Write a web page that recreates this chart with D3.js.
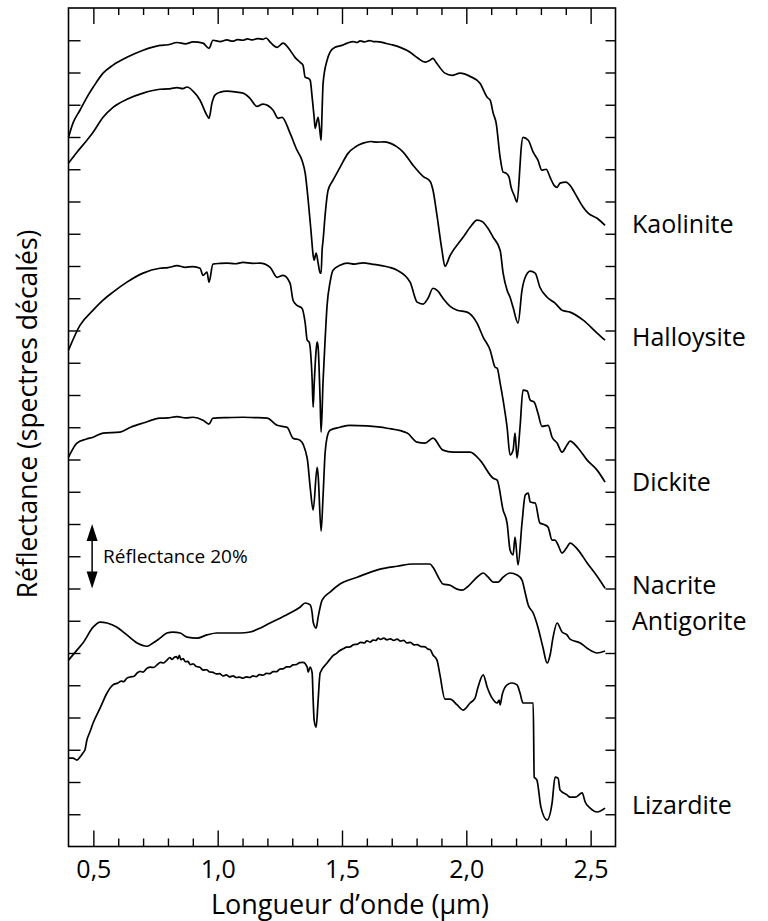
<!DOCTYPE html>
<html>
<head>
<meta charset="utf-8">
<script src="https://cdn.jsdelivr.net/npm/d3@7"></script>
<style>
  body { margin: 0; background: #fff; }
  svg { display: block; }
  text { font-family: "Open Sans", "Noto Sans", sans-serif; fill: #000; }
</style>
</head>
<body>
<svg id="chart" width="768" height="921"></svg>
<script>
// Reflectance spectra (wavelength in µm, reflectance in %, each curve already shifted upward)
const kaolinite = [
  [0.400,219.9],[0.418,224.3],[0.446,228.3],[0.474,232.3],[0.499,235.4],[0.539,239.8],[0.579,242.3],
  [0.635,244.7],[0.700,246.9],[0.768,248.4],[0.800,248.6],[0.837,249.3],[0.870,248.9],[0.901,249.5],
  [0.941,249.1],[0.965,247.5],[0.981,250.0],[1.010,249.6],[1.037,250.1],[1.060,249.7],[1.080,250.2],
  [1.100,250.0],[1.120,250.4],[1.140,250.1],[1.160,250.5],[1.182,250.3],[1.195,250.7],[1.211,249.4],
  [1.239,247.8],[1.263,249.1],[1.291,246.9],[1.311,244.7],[1.331,243.2],[1.343,242.3],[1.352,238.5],
  [1.364,238.2],[1.372,237.6],[1.380,232.3],[1.388,226.1],[1.392,222.7],[1.400,225.2],[1.404,226.1],
  [1.412,221.2],[1.416,219.0],[1.420,228.3],[1.424,236.7],[1.440,243.8],[1.452,246.3],[1.472,247.8],
  [1.500,248.4],[1.521,249.1],[1.545,249.6],[1.560,249.3],[1.573,249.8],[1.590,249.5],[1.610,249.9],
  [1.625,249.6],[1.650,249.5],[1.673,249.1],[1.700,248.6],[1.734,247.8],[1.774,246.3],[1.806,244.4],
  [1.834,243.2],[1.854,243.8],[1.866,244.4],[1.878,243.2],[1.914,239.8],[1.943,239.1],[1.975,239.8],
  [2.015,238.8],[2.055,236.7],[2.084,232.3],[2.096,231.4],[2.108,227.4],[2.120,224.3],[2.136,213.7],
  [2.148,209.1],[2.160,208.8],[2.172,207.5],[2.180,204.4],[2.192,202.0],[2.204,199.8],[2.216,211.2],
  [2.220,215.9],[2.228,219.9],[2.249,219.0],[2.269,215.3],[2.288,212.8],[2.304,209.7],[2.321,210.0],
  [2.337,207.5],[2.353,205.0],[2.365,204.4],[2.377,205.7],[2.401,206.0],[2.417,205.0],[2.446,201.3],
  [2.470,198.2],[2.490,196.4],[2.526,194.8],[2.558,192.6]
];

const halloysite = [
  [0.400,211.9],[0.434,215.3],[0.474,219.0],[0.499,221.5],[0.539,226.1],[0.579,229.2],[0.635,231.7],
  [0.700,233.6],[0.768,234.8],[0.800,234.9],[0.837,235.3],[0.860,235.0],[0.877,235.5],[0.901,234.2],
  [0.929,231.4],[0.957,226.7],[0.965,225.8],[0.977,230.5],[0.989,233.0],[1.010,233.9],[1.037,234.2],
  [1.070,234.0],[1.102,233.6],[1.130,232.0],[1.158,229.5],[1.182,230.2],[1.223,228.3],[1.243,225.8],
  [1.259,226.1],[1.291,221.2],[1.319,215.9],[1.339,212.8],[1.352,208.8],[1.364,200.4],[1.376,190.2],
  [1.384,183.3],[1.388,181.8],[1.396,184.0],[1.404,180.9],[1.412,177.8],[1.416,177.8],[1.420,184.9],
  [1.424,188.0],[1.432,195.7],[1.444,203.5],[1.464,206.6],[1.492,210.6],[1.525,215.0],[1.555,217.0],
  [1.585,218.1],[1.615,218.6],[1.641,218.4],[1.668,218.5],[1.693,218.1],[1.720,217.0],[1.746,215.3],
  [1.786,211.2],[1.826,207.8],[1.854,206.3],[1.866,203.5],[1.882,195.7],[1.902,184.9],[1.914,179.9],
  [1.935,183.3],[1.987,188.9],[2.020,192.5],[2.043,194.2],[2.065,193.7],[2.084,192.0],[2.108,188.9],
  [2.136,184.9],[2.148,177.8],[2.164,172.5],[2.176,170.3],[2.188,167.2],[2.208,162.3],[2.224,172.5],
  [2.237,176.5],[2.257,178.4],[2.277,177.8],[2.296,173.4],[2.325,170.3],[2.357,168.5],[2.385,166.3],
  [2.417,165.7],[2.470,163.2],[2.526,159.2],[2.558,157.0]
];

const dickite = [
  [0.400,153.9],[0.446,161.6],[0.499,166.3],[0.539,169.4],[0.579,171.9],[0.635,175.0],[0.700,177.8],
  [0.768,179.3],[0.800,179.5],[0.837,180.1],[0.870,179.6],[0.901,179.8],[0.929,179.3],[0.941,177.1],
  [0.957,178.1],[0.965,175.0],[0.981,180.6],[1.010,180.8],[1.037,180.9],[1.070,180.7],[1.102,181.1],
  [1.140,180.8],[1.170,180.9],[1.211,179.6],[1.239,176.5],[1.263,177.1],[1.291,174.7],[1.303,169.4],
  [1.319,167.8],[1.339,166.9],[1.352,162.3],[1.360,157.0],[1.368,156.4],[1.380,144.6],[1.384,136.2],
  [1.388,143.1],[1.396,153.9],[1.400,156.4],[1.404,154.8],[1.412,138.4],[1.416,128.5],[1.424,144.6],
  [1.432,157.0],[1.440,167.8],[1.452,175.0],[1.464,178.7],[1.492,180.2],[1.521,180.9],[1.550,180.6],
  [1.585,181.0],[1.620,180.6],[1.653,180.2],[1.690,179.6],[1.722,178.7],[1.774,175.0],[1.802,168.8],
  [1.826,168.2],[1.846,170.0],[1.866,173.1],[1.886,172.2],[1.906,170.0],[1.935,167.5],[1.963,166.3],
  [2.003,165.7],[2.043,162.3],[2.068,157.9],[2.096,153.9],[2.116,148.6],[2.124,148.3],[2.136,143.7],
  [2.148,138.4],[2.164,130.0],[2.176,121.4],[2.188,122.9],[2.196,128.2],[2.204,120.4],[2.216,130.0],
  [2.228,141.5],[2.245,141.2],[2.257,138.4],[2.273,137.8],[2.288,134.4],[2.304,130.3],[2.329,130.6],
  [2.345,126.9],[2.365,125.1],[2.385,122.3],[2.405,124.5],[2.417,125.7],[2.450,123.5],[2.486,119.8],
  [2.526,116.7],[2.558,113.0]
];

const nacrite = [
  [0.400,120.7],[0.434,125.1],[0.470,126.3],[0.499,126.9],[0.539,128.2],[0.607,128.5],[0.650,130.0],
  [0.700,131.3],[0.768,132.8],[0.800,132.9],[0.837,133.3],[0.870,132.9],[0.901,133.1],[0.941,132.2],
  [0.965,131.0],[0.981,132.8],[1.040,133.0],[1.102,133.1],[1.150,133.0],[1.199,132.8],[1.239,130.6],
  [1.279,130.0],[1.303,126.6],[1.331,126.0],[1.360,120.4],[1.372,111.4],[1.384,104.3],[1.400,117.6],
  [1.404,115.1],[1.416,97.8],[1.424,109.0],[1.432,122.0],[1.440,126.9],[1.452,129.1],[1.492,130.0],
  [1.532,130.6],[1.600,130.4],[1.681,129.7],[1.762,128.2],[1.802,125.4],[1.834,125.1],[1.866,126.6],
  [1.906,122.9],[1.947,122.3],[2.015,122.3],[2.055,119.8],[2.108,114.2],[2.124,113.6],[2.148,104.3],
  [2.164,100.3],[2.176,91.9],[2.188,90.4],[2.196,95.9],[2.208,87.3],[2.224,100.3],[2.237,109.0],
  [2.249,109.6],[2.257,106.8],[2.277,106.5],[2.296,100.3],[2.317,99.7],[2.329,99.0],[2.345,95.0],
  [2.357,95.0],[2.369,93.5],[2.385,91.0],[2.405,92.8],[2.417,94.1],[2.450,91.9],[2.486,87.9],
  [2.526,83.8],[2.558,80.1]
];

const antigorite = [
  [0.400,57.8],[0.434,60.9],[0.458,63.1],[0.499,68.0],[0.527,69.6],[0.555,69.3],[0.595,68.0],
  [0.635,65.6],[0.676,63.1],[0.716,62.1],[0.740,63.1],[0.768,64.6],[0.796,66.2],[0.820,66.5],
  [0.849,66.2],[0.877,64.9],[0.917,64.6],[0.957,65.6],[0.997,66.2],[1.090,66.2],[1.130,66.5],
  [1.170,67.7],[1.211,69.3],[1.251,70.8],[1.291,72.4],[1.331,74.2],[1.352,75.5],[1.372,74.9],
  [1.380,72.4],[1.384,69.6],[1.396,67.7],[1.404,71.1],[1.420,76.4],[1.452,78.9],[1.492,81.4],
  [1.561,83.5],[1.653,86.0],[1.722,86.9],[1.786,87.6],[1.854,87.6],[1.866,86.6],[1.894,82.6],
  [1.906,81.4],[1.935,81.0],[1.963,79.8],[1.983,79.5],[2.003,80.4],[2.043,83.5],[2.068,84.8],
  [2.088,83.5],[2.108,82.0],[2.128,82.0],[2.148,83.5],[2.176,84.8],[2.204,84.2],[2.224,82.6],
  [2.237,78.6],[2.249,74.9],[2.269,72.4],[2.288,68.0],[2.308,61.8],[2.325,56.9],[2.337,59.4],
  [2.349,64.9],[2.365,69.3],[2.385,66.5],[2.405,65.6],[2.417,64.3],[2.458,63.1],[2.486,61.5],
  [2.526,60.0],[2.558,60.6]
];

const lizardite = [
  [0.400,27.4],[0.418,27.4],[0.434,26.8],[0.446,27.7],[0.458,29.0],[0.466,29.9],[0.474,33.0],
  [0.486,35.5],[0.499,38.3],[0.527,42.9],[0.555,47.6],[0.579,50.1],[0.599,50.7],[0.612,51.3],
  [0.622,51.1],[0.635,52.2],[0.650,52.6],[0.662,52.7],[0.676,53.8],[0.688,54.3],[0.700,54.1],
  [0.716,55.3],[0.730,55.6],[0.742,55.5],[0.756,56.3],[0.770,57.1],[0.782,56.9],[0.796,57.8],
  [0.808,58.6],[0.816,58.0],[0.826,58.7],[0.834,58.9],[0.840,58.2],[0.846,59.3],[0.852,57.9],
  [0.861,58.3],[0.870,57.3],[0.880,57.4],[0.890,56.4],[0.901,56.6],[0.915,55.8],[0.928,55.6],
  [0.941,54.7],[0.955,54.8],[0.968,54.1],[0.981,54.0],[0.995,53.5],[1.008,53.6],[1.021,52.9],
  [1.035,53.2],[1.048,52.6],[1.062,52.9],[1.075,52.4],[1.088,52.5],[1.102,52.2],[1.115,52.6],
  [1.128,52.4],[1.142,52.9],[1.155,52.7],[1.168,53.3],[1.182,53.1],[1.196,53.7],[1.210,53.6],
  [1.223,54.2],[1.237,54.2],[1.250,55.0],[1.263,55.1],[1.277,55.7],[1.290,55.7],[1.303,56.3],
  [1.316,56.4],[1.330,57.0],[1.343,57.1],[1.360,55.6],[1.364,54.1],[1.372,55.6],[1.380,53.8],
  [1.384,45.4],[1.388,39.2],[1.396,37.0],[1.404,45.4],[1.412,53.8],[1.440,56.9],[1.452,58.1],
  [1.464,59.2],[1.478,59.9],[1.490,60.7],[1.505,61.3],[1.518,61.8],[1.532,61.9],[1.547,62.6],
  [1.561,62.7],[1.575,63.3],[1.590,63.1],[1.600,63.8],[1.613,63.4],[1.625,64.0],[1.637,63.9],
  [1.645,64.6],[1.655,64.2],[1.668,64.6],[1.681,64.1],[1.695,64.4],[1.708,63.9],[1.722,64.3],
  [1.735,63.7],[1.748,63.9],[1.762,63.1],[1.775,63.3],[1.790,62.5],[1.802,62.6],[1.818,62.0],
  [1.834,61.9],[1.846,61.2],[1.854,61.1],[1.866,59.4],[1.882,57.8],[1.894,53.2],[1.914,45.7],
  [1.935,45.7],[1.963,43.9],[1.987,42.3],[2.015,44.5],[2.035,46.0],[2.047,49.4],[2.068,53.2],
  [2.084,49.4],[2.104,46.0],[2.124,44.5],[2.132,45.4],[2.136,43.9],[2.144,47.0],[2.164,50.1],
  [2.184,50.7],[2.204,50.1],[2.216,47.6],[2.228,44.5],[2.269,44.5],[2.273,21.5],[2.284,20.6],
  [2.300,12.2],[2.325,8.2],[2.345,13.5],[2.357,21.5],[2.369,21.2],[2.377,17.5],[2.405,16.0],
  [2.417,15.3],[2.438,15.3],[2.466,16.6],[2.478,13.8],[2.498,11.9],[2.526,10.7],[2.558,11.9]
];

const mineralNames = ["Kaolinite", "Halloysite", "Dickite", "Nacrite", "Antigorite", "Lizardite"];
const spectra = [kaolinite, halloysite, dickite, nacrite, antigorite, lizardite];
// reflectance level beside which each name is written
const labelLevels = [193, 158, 113, 81, 70, 13];

const xMajorTicks = [0.5, 1.0, 1.5, 2.0, 2.5];
const xTickLabels = ["0,5", "1,0", "1,5", "2,0", "2,5"];
const xMinorTicks = d3.range(5, 26).map(d => d / 10);
const yTicks = d3.range(1, 26).map(d => d * 10);

// 20 % reflectance scale bar
const scaleBarRange = [80, 100];
const scaleBarWavelength = 0.495;
const scaleBarText = "Réflectance 20%";

const xTitle = "Longueur d’onde (µm)";
const yTitle = "Réflectance (spectres décalés)";

// ---------- layout ----------
const svg = d3.select("#chart");
const plotLeft = 68.5, plotRight = 615.5, plotTop = 8, plotBottom = 846.5;

const x = d3.scaleLinear().domain([0.4, 2.6]).range([plotLeft, plotRight]);
const y = d3.scaleLinear().domain([0, 260]).range([plotBottom, plotTop]);

svg.append("rect").attr("width", 768).attr("height", 921).attr("fill", "#fff");

// tick marks pointing into the frame
const tickStyle = g => {
  g.select(".domain").remove();
  g.selectAll("line").attr("stroke", "#000").attr("stroke-width", 1.4);
};

const isMajor = v => xMajorTicks.some(m => Math.abs(m - v) < 1e-6);

// bottom ticks
svg.append("g").attr("transform", `translate(0,${plotBottom})`)
  .call(d3.axisTop(x).tickValues(xMinorTicks).tickFormat("").tickSizeOuter(0).tickSizeInner(8))
  .call(tickStyle)
  .selectAll(".tick line").attr("y2", d => isMajor(d) ? -16 : -8);

// top ticks
svg.append("g").attr("transform", `translate(0,${plotTop})`)
  .call(d3.axisBottom(x).tickValues(xMinorTicks).tickFormat("").tickSizeOuter(0).tickSizeInner(8))
  .call(tickStyle)
  .selectAll(".tick line").attr("y2", d => isMajor(d) ? 16 : 7);

// left ticks
svg.append("g").attr("transform", `translate(${plotLeft},0)`)
  .call(d3.axisRight(y).tickValues(yTicks).tickFormat("").tickSizeOuter(0).tickSizeInner(12))
  .call(tickStyle);

// right ticks
svg.append("g").attr("transform", `translate(${plotRight},0)`)
  .call(d3.axisLeft(y).tickValues(yTicks).tickFormat("").tickSizeOuter(0).tickSizeInner(10))
  .call(tickStyle);

// tick labels
svg.append("g").attr("transform", `translate(0,${plotBottom})`)
  .call(d3.axisBottom(x).tickValues(xMajorTicks)
        .tickFormat((d, i) => xTickLabels[i]).tickSize(0).tickPadding(14))
  .call(g => g.select(".domain").remove())
  .selectAll("text")
  .attr("font-family", "Open Sans, sans-serif")
  .attr("font-size", 25)
  .attr("fill", "#000")
  .attr("dy", "0.71em");

// frame
svg.append("rect")
  .attr("x", plotLeft).attr("y", plotTop)
  .attr("width", plotRight - plotLeft).attr("height", plotBottom - plotTop)
  .attr("fill", "none").attr("stroke", "#000").attr("stroke-width", 1.6);

// spectra
const line = d3.line().x(d => x(d[0])).y(d => y(d[1])).curve(d3.curveMonotoneX);
svg.append("g").selectAll("path").data(spectra).join("path")
  .attr("d", line)
  .attr("fill", "none")
  .attr("stroke", "#000")
  .attr("stroke-width", 1.7)
  .attr("stroke-linejoin", "round");

// mineral names
svg.append("g").selectAll("text").data(mineralNames).join("text")
  .attr("x", 632)
  .attr("y", (d, i) => y(labelLevels[i]))
  .attr("dy", "0.36em")
  .attr("font-size", 25)
  .text(d => d);

// scale bar
const sbx = x(scaleBarWavelength);
const sbTop = y(scaleBarRange[1]), sbBot = y(scaleBarRange[0]);
const bar = svg.append("g");
bar.append("line").attr("x1", sbx).attr("x2", sbx)
  .attr("y1", sbTop + 10).attr("y2", sbBot - 10)
  .attr("stroke", "#000").attr("stroke-width", 1.5);
bar.append("path")
  .attr("d", `M${sbx},${sbTop} L${sbx - 5.5},${sbTop + 17} L${sbx + 5.5},${sbTop + 17} Z`)
  .attr("fill", "#000");
bar.append("path")
  .attr("d", `M${sbx},${sbBot} L${sbx - 5.5},${sbBot - 17} L${sbx + 5.5},${sbBot - 17} Z`)
  .attr("fill", "#000");
bar.append("text")
  .attr("x", sbx + 11)
  .attr("y", (sbTop + sbBot) / 2)
  .attr("dy", "0.36em")
  .attr("font-size", 19)
  .text(scaleBarText);

// axis titles
svg.append("text")
  .attr("x", (plotLeft + plotRight) / 2 + 8)
  .attr("y", 914)
  .attr("text-anchor", "middle")
  .attr("font-size", 27)
  .text(xTitle);

svg.append("text")
  .attr("transform", `translate(37,${414}) rotate(-90)`)
  .attr("text-anchor", "middle")
  .attr("font-size", 26.5)
  .text(yTitle);
</script>
</body>
</html>
